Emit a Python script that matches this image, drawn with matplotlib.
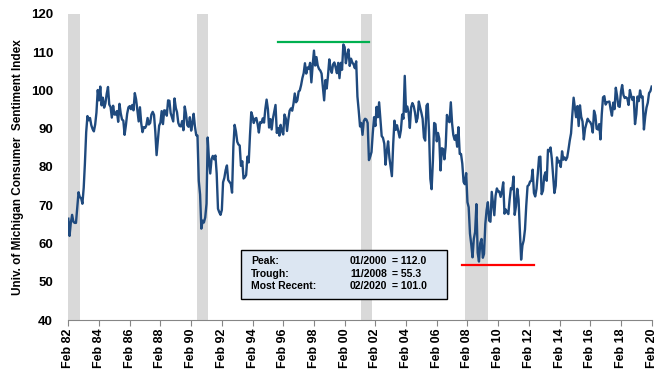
"""
Univ. of Michigan Consumer Sentiment Index, Feb 1982 - Feb 2020,
with recession shading, peak/trough markers and summary box.
"""

import numpy as np
import pandas as pd
import matplotlib
matplotlib.use("Agg")
import matplotlib.pyplot as plt
from matplotlib.patches import Rectangle

plt.rcParams['font.family'] = ['Liberation Sans', 'DejaVu Sans']

# Monthly index values, Feb 1982 .. Feb 2020
SENTIMENT = {
    1982: [66.5, 62.0, 65.5, 67.5, 65.7, 65.4, 65.4, 69.3, 73.4, 72.1, 71.9],
    1983: [70.4, 74.6, 80.8, 89.1, 93.3, 92.2, 92.8, 90.9, 89.9, 89.3, 91.1, 94.2],
    1984: [100.1, 97.4, 101.0, 96.1, 98.1, 95.5, 96.6, 99.1, 100.9, 96.3, 95.7, 92.9],
    1985: [96.0, 93.7, 93.7, 94.6, 91.8, 96.5, 94.0, 92.4, 92.1, 88.4, 90.9, 93.9],
    1986: [95.6, 95.9, 95.1, 96.2, 94.8, 99.3, 97.7, 94.9, 91.9, 95.6, 91.4, 89.1],
    1987: [90.4, 90.2, 90.8, 92.8, 91.1, 91.5, 93.7, 94.4, 93.6, 89.3, 83.1, 86.8],
    1988: [90.8, 91.6, 94.6, 91.2, 94.8, 94.7, 93.4, 97.4, 97.3, 94.1, 93.0, 91.9],
    1989: [97.9, 95.4, 94.3, 91.5, 90.7, 90.6, 92.0, 89.6, 95.8, 93.9, 90.9, 90.5],
    1990: [93.0, 89.5, 91.3, 93.9, 90.6, 88.3, 88.2, 76.4, 72.8, 63.9, 66.0, 65.5],
    1991: [66.8, 70.4, 87.7, 81.8, 78.3, 82.1, 82.9, 82.0, 83.0, 78.3, 69.1, 68.2],
    1992: [67.5, 68.8, 76.0, 77.2, 79.2, 80.4, 76.6, 76.1, 75.6, 73.3, 85.3, 91.0],
    1993: [89.3, 86.6, 85.9, 85.6, 80.3, 81.5, 77.0, 77.3, 77.9, 82.7, 81.2, 88.2],
    1994: [94.3, 93.2, 91.5, 92.6, 92.8, 91.2, 89.0, 91.7, 91.5, 92.7, 91.6, 95.1],
    1995: [97.6, 95.1, 90.3, 92.5, 89.8, 92.7, 94.4, 96.2, 88.9, 90.2, 88.2, 91.0],
    1996: [89.3, 88.5, 93.7, 92.7, 89.4, 92.4, 94.7, 95.3, 94.7, 96.5, 99.2, 96.9],
    1997: [97.4, 99.7, 100.0, 101.4, 103.2, 104.5, 107.1, 104.4, 106.0, 105.6, 107.2, 102.1],
    1998: [106.6, 110.4, 106.5, 108.7, 106.5, 105.6, 105.2, 104.4, 100.9, 97.4, 102.7, 100.5],
    1999: [103.9, 108.1, 105.7, 104.6, 106.8, 107.3, 106.0, 104.5, 107.2, 103.2, 107.2, 105.4],
    2000: [112.0, 111.3, 107.1, 109.2, 110.7, 106.4, 108.3, 107.3, 106.8, 105.8, 107.6, 98.4],
    2001: [94.7, 90.6, 91.5, 88.4, 92.0, 92.6, 92.4, 91.5, 81.8, 82.7, 83.9, 88.8],
    2002: [93.0, 90.7, 95.7, 93.0, 96.9, 92.4, 88.1, 87.6, 86.1, 80.6, 84.2, 86.7],
    2003: [82.4, 79.9, 77.6, 86.0, 92.1, 89.7, 90.9, 89.3, 87.7, 89.6, 93.7, 92.6],
    2004: [103.8, 94.4, 95.8, 94.2, 90.2, 95.6, 96.7, 95.9, 94.2, 91.7, 92.8, 97.1],
    2005: [95.5, 94.1, 92.6, 87.7, 86.9, 96.0, 96.5, 89.1, 76.9, 74.2, 81.6, 91.5],
    2006: [91.2, 86.7, 88.9, 87.4, 79.1, 84.9, 84.7, 82.0, 85.4, 93.6, 92.1, 91.7],
    2007: [96.9, 91.3, 88.4, 87.1, 88.3, 85.3, 90.4, 83.4, 83.4, 80.9, 76.1, 75.5],
    2008: [78.4, 70.8, 69.5, 62.6, 59.8, 56.4, 61.2, 63.0, 70.3, 57.6, 55.3, 60.1],
    2009: [61.2, 56.3, 57.3, 65.1, 68.7, 70.8, 66.0, 65.7, 73.5, 70.6, 67.4, 72.5],
    2010: [74.4, 73.6, 73.6, 72.2, 73.6, 76.0, 67.8, 68.9, 68.2, 67.7, 71.6, 74.5],
    2011: [74.2, 77.5, 67.5, 69.8, 74.3, 71.5, 63.7, 55.8, 59.5, 60.8, 63.7, 69.9],
    2012: [75.0, 75.3, 76.2, 76.4, 79.3, 73.2, 72.3, 74.3, 78.3, 82.6, 82.7, 72.9],
    2013: [73.8, 77.6, 78.6, 76.4, 84.5, 84.1, 85.1, 82.1, 77.5, 73.2, 75.1, 82.5],
    2014: [81.2, 81.6, 80.0, 84.1, 81.9, 82.5, 81.8, 82.5, 84.6, 86.9, 88.8, 93.6],
    2015: [98.1, 95.4, 93.0, 95.9, 90.7, 96.1, 93.1, 91.9, 87.2, 90.0, 91.3, 92.6],
    2016: [92.0, 91.7, 91.0, 89.0, 94.7, 93.5, 90.0, 89.8, 91.2, 87.2, 93.8, 98.2],
    2017: [98.5, 96.3, 96.9, 97.0, 97.1, 95.0, 93.4, 96.8, 95.1, 100.7, 98.5, 95.9],
    2018: [95.7, 99.7, 101.4, 98.8, 98.0, 98.2, 97.9, 96.2, 100.1, 98.6, 97.5, 98.3],
    2019: [91.2, 93.8, 98.4, 97.2, 100.0, 98.2, 98.4, 89.8, 93.2, 95.5, 96.8, 99.3],
    2020: [99.8, 101.0],
}

RECESSIONS = [
    ("1981-07-01", "1982-11-01"),
    ("1990-07-01", "1991-03-01"),
    ("2001-03-01", "2001-11-01"),
    ("2007-12-01", "2009-06-01"),
]

PEAK_LINE = ("1995-10-01", "2001-09-01", 112.6)
TROUGH_LINE = ("2007-10-01", "2012-06-01", 54.5)

SUMMARY = [
    ("Peak:", "01/2000", "= 112.0"),
    ("Trough:", "11/2008", "= 55.3"),
    ("Most Recent:", "02/2020", "= 101.0"),
]

START = "1982-02-01"
END = "2020-02-01"


def main():
    values = [v for yr in sorted(SENTIMENT) for v in SENTIMENT[yr]]
    dates = pd.date_range(START, periods=len(values), freq="MS")
    series = pd.Series(values, index=dates)

    fig = plt.figure(figsize=(6.67, 3.74), dpi=100)
    ax = fig.add_axes([0.1025, 0.144, 0.8745, 0.819])

    # recession shading
    for s, e in RECESSIONS:
        ax.axvspan(pd.Timestamp(s), pd.Timestamp(e), color="#d9d9d9", lw=0, zorder=0)

    ax.plot(series.index, series.values, color="#1f4a7e", lw=1.7, zorder=3)

    # peak / trough reference lines
    ax.plot([pd.Timestamp(PEAK_LINE[0]), pd.Timestamp(PEAK_LINE[1])],
            [PEAK_LINE[2]] * 2, color="#00b050", lw=1.6, zorder=4)
    ax.plot([pd.Timestamp(TROUGH_LINE[0]), pd.Timestamp(TROUGH_LINE[1])],
            [TROUGH_LINE[2]] * 2, color="#ff0000", lw=1.6, zorder=4)

    ax.set_xlim(pd.Timestamp(START), pd.Timestamp(END))
    ax.set_ylim(40, 120)
    ax.set_yticks(np.arange(40, 121, 10))

    ticks = pd.date_range(START, END, freq="24MS")
    ax.set_xticks(ticks)
    ax.set_xticklabels([d.strftime("Feb %y") for d in ticks], rotation=90,
                       fontsize=9, fontweight="bold")
    for lbl in ax.get_yticklabels():
        lbl.set_fontsize(9.5)
        lbl.set_fontweight("bold")

    for side in ("top", "right", "left"):
        ax.spines[side].set_visible(False)
    ax.spines["bottom"].set_color("#868686")
    ax.tick_params(axis="x", direction="out", length=4, color="#868686", pad=2)
    ax.tick_params(axis="y", length=0, pad=11)

    ax.set_ylabel("Univ. of Michigan Consumer  Sentiment Index",
                  fontsize=8.5, fontweight="bold", labelpad=5)

    # summary box
    box = Rectangle((0.296, 0.069), 0.353, 0.160, transform=ax.transAxes,
                    facecolor="#dce6f2", edgecolor="black", lw=1, zorder=5)
    ax.add_patch(box)
    row_y = [0.194, 0.151, 0.112]
    for (name, when, val), y in zip(SUMMARY, row_y):
        ax.text(0.313, y, name, transform=ax.transAxes, fontsize=7.5,
                fontweight="bold", va="center", zorder=6)
        ax.text(0.546, y, when, transform=ax.transAxes, fontsize=7.5,
                fontweight="bold", va="center", ha="right", zorder=6)
        ax.text(0.555, y, val, transform=ax.transAxes, fontsize=7.5,
                fontweight="bold", va="center", zorder=6)

    fig.savefig("out.png", dpi=100)


if __name__ == "__main__":
    main()
